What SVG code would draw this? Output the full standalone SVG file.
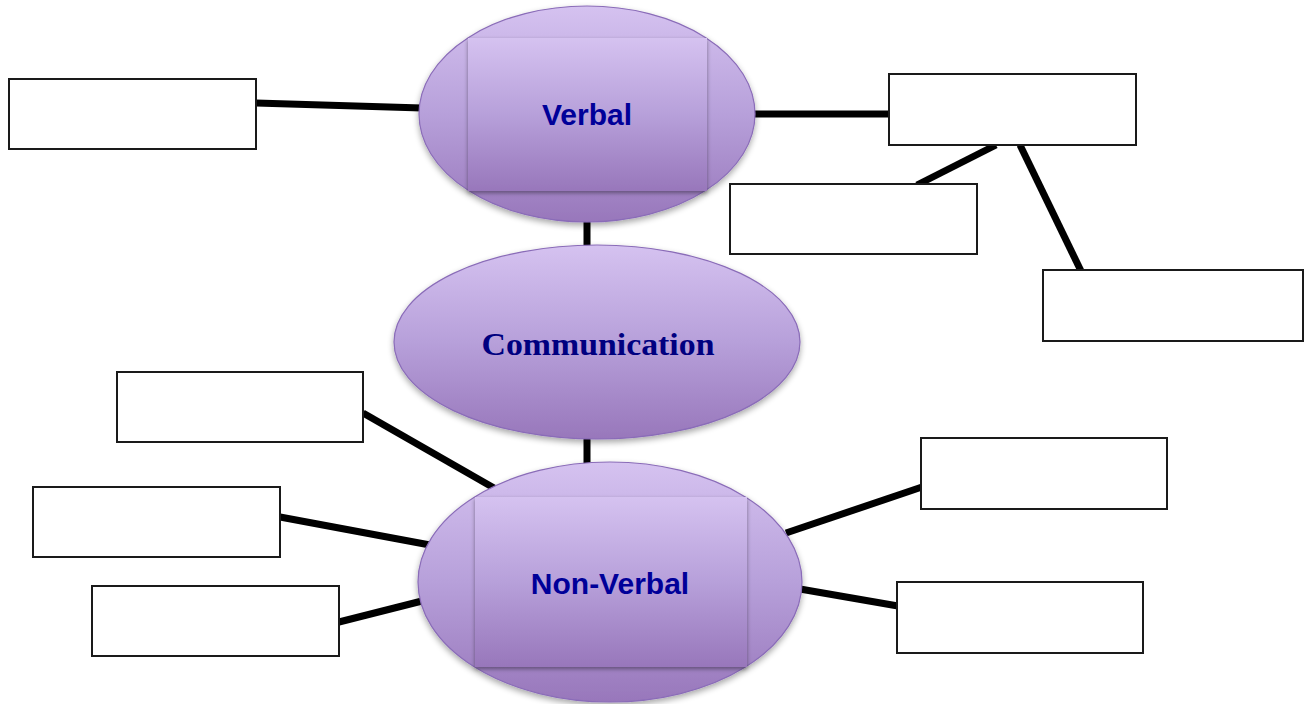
<svg xmlns="http://www.w3.org/2000/svg" width="1311" height="704" viewBox="0 0 1311 704">
  <style>
    .box { fill: #ffffff; stroke: #1a1a1a; stroke-width: 2; }
    .link { stroke: #000000; stroke-width: 7; fill: none; }
    .oval { fill: url(#lavender); stroke: #8a6cb8; stroke-width: 1.2; filter: url(#soft); }
    .panel { fill: url(#lavender); filter: url(#edge); }
    .sans { font-family: "Liberation Sans", Arial, sans-serif; font-weight: bold; font-size: 30px; fill: #000099; text-anchor: middle; }
    .serif { font-family: "Liberation Serif", "Times New Roman", serif; font-weight: bold; font-size: 31px; fill: #000080; text-anchor: middle; }
  </style>
  <defs>
    <linearGradient id="lavender" x1="0" y1="0" x2="0" y2="1">
      <stop offset="0" stop-color="#d5c2f0"/>
      <stop offset="0.5" stop-color="#b7a0da"/>
      <stop offset="1" stop-color="#9877bb"/>
    </linearGradient>
    <filter id="soft" x="-10%" y="-10%" width="120%" height="130%">
      <feGaussianBlur in="SourceAlpha" stdDeviation="3"/>
      <feOffset dy="3" result="b"/>
      <feComponentTransfer><feFuncA type="linear" slope="0.35"/></feComponentTransfer>
      <feMerge><feMergeNode/><feMergeNode in="SourceGraphic"/></feMerge>
    </filter>
    <filter id="edge" x="-10%" y="-10%" width="120%" height="125%">
      <feGaussianBlur in="SourceAlpha" stdDeviation="2"/>
      <feOffset dy="2" result="b"/>
      <feComponentTransfer><feFuncA type="linear" slope="0.4"/></feComponentTransfer>
      <feMerge><feMergeNode/><feMergeNode in="SourceGraphic"/></feMerge>
    </filter>
  </defs>

  <rect width="1311" height="704" fill="#ffffff"/>

  <g id="connectors">
    <line class="link" x1="256" y1="103" x2="422" y2="108"/>
    <line class="link" x1="752" y1="114" x2="890" y2="114"/>
    <line class="link" x1="996" y1="145" x2="917" y2="185"/>
    <line class="link" x1="1020" y1="145" x2="1081" y2="271"/>
    <line class="link" x1="587" y1="218" x2="587" y2="248"/>
    <line class="link" x1="587" y1="436" x2="587" y2="466"/>
    <line class="link" x1="363" y1="413" x2="494" y2="488"/>
    <line class="link" x1="280" y1="517" x2="430" y2="545"/>
    <line class="link" x1="339" y1="622" x2="422" y2="601"/>
    <line class="link" x1="786" y1="533" x2="922" y2="487"/>
    <line class="link" x1="800" y1="589" x2="898" y2="606"/>
  </g>

  <g id="verbal">
    <ellipse class="oval" cx="587" cy="114" rx="168" ry="108"/>
    <rect class="panel" x="468" y="38" width="239" height="153"/>
    <text class="sans" x="587" y="125">Verbal</text>
  </g>

  <g id="communication">
    <ellipse class="oval" cx="597" cy="342" rx="203" ry="97"/>
    <text class="serif" x="598" y="355" textLength="233" lengthAdjust="spacingAndGlyphs">Communication</text>
  </g>

  <g id="non-verbal">
    <ellipse class="oval" cx="610" cy="582" rx="192" ry="120"/>
    <rect class="panel" x="475" y="497" width="272" height="170"/>
    <text class="sans" x="610" y="594">Non-Verbal</text>
  </g>

  <g id="box-verbal-left"><rect class="box" x="9" y="79" width="247" height="70"/></g>
  <g id="box-verbal-right"><rect class="box" x="889" y="74" width="247" height="71"/></g>
  <g id="box-verbal-right-a"><rect class="box" x="730" y="184" width="247" height="70"/></g>
  <g id="box-verbal-right-b"><rect class="box" x="1043" y="270" width="260" height="71"/></g>
  <g id="box-nonverbal-left-a"><rect class="box" x="117" y="372" width="246" height="70"/></g>
  <g id="box-nonverbal-left-b"><rect class="box" x="33" y="487" width="247" height="70"/></g>
  <g id="box-nonverbal-left-c"><rect class="box" x="92" y="586" width="247" height="70"/></g>
  <g id="box-nonverbal-right-a"><rect class="box" x="921" y="438" width="246" height="71"/></g>
  <g id="box-nonverbal-right-b"><rect class="box" x="897" y="582" width="246" height="71"/></g>
</svg>
